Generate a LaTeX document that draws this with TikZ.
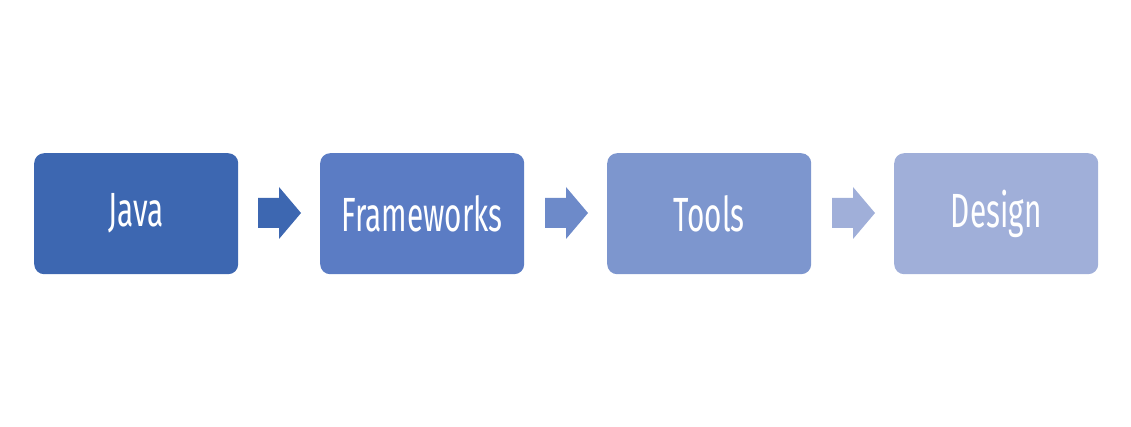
\documentclass[tikz,border=0pt]{standalone}
\usepackage{fontspec}
\setmainfont{Fira Sans}[FakeStretch=0.62]
\tikzset{
  stage/.style={rounded corners=10pt, minimum width=204pt, minimum height=121pt, inner sep=0pt,
    text=white, font=\fontsize{48}{48}\selectfont, anchor=north west},
}
\definecolor{cA}{HTML}{3D67B1}
\definecolor{cB}{HTML}{5B7CC4}
\definecolor{cC}{HTML}{7D96CE}
\definecolor{cD}{HTML}{A0AFD9}
\definecolor{aB}{HTML}{6D8AC9}
\begin{document}
\begin{tikzpicture}[x=1pt,y=-1pt]
\useasboundingbox (0,0) rectangle (1131,427);
\node[stage, fill=cA] (java) at (34,153) {Java};
\node[stage, fill=cB] (fw) at (320,153) {Frameworks};
\node[stage, fill=cC] (tools) at (607,153) {Tools};
\node[stage, fill=cD] (design) at (894,153) {Design};
\foreach \s/\c in {258/cA,545/aB,832/cD}{
  \fill[\c] (\s,198) -- (\s+21,198) -- (\s+21,187) -- (\s+43,213) -- (\s+21,239) -- (\s+21,228) -- (\s,228) -- cycle;
}
\end{tikzpicture}
\end{document}
